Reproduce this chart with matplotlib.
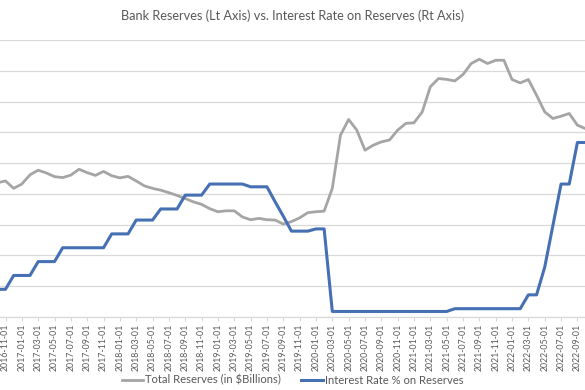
import matplotlib
matplotlib.use("Agg")
import matplotlib.pyplot as plt
import pandas as pd

# Monthly data, 2016-10 .. 2022-10
months = pd.date_range("2016-10-01", periods=73, freq="MS")
reserves = [2180, 2210, 2090, 2160, 2310, 2385, 2340, 2280, 2265, 2305,
            2400, 2345, 2300, 2365, 2295, 2260, 2285, 2210, 2130, 2090,
            2060, 2020, 1975, 1925, 1870, 1830, 1760, 1710, 1725, 1725,
            1625, 1580, 1602, 1580, 1575, 1510, 1550, 1610, 1695, 1710,
            1720, 2090, 2954, 3209, 3035, 2710, 2790, 2845, 2875, 3035,
            3145, 3155, 3330, 3740, 3874, 3860, 3835, 3940, 4118, 4188,
            4118, 4171, 4171, 3858, 3803, 3858, 3603, 3332, 3225, 3262,
            3306, 3116, 3060]
rate = [0.50, 0.50, 0.75, 0.75, 0.75, 1.00, 1.00, 1.00, 1.25, 1.25,
        1.25, 1.25, 1.25, 1.25, 1.50, 1.50, 1.50, 1.75, 1.75, 1.75,
        1.95, 1.95, 1.95, 2.20, 2.20, 2.20, 2.40, 2.40, 2.40, 2.40,
        2.40, 2.35, 2.35, 2.35, 2.08, 1.82, 1.55, 1.55, 1.55, 1.59,
        1.59, 0.10, 0.10, 0.10, 0.10, 0.10, 0.10, 0.10, 0.10, 0.10,
        0.10, 0.10, 0.10, 0.10, 0.10, 0.10, 0.15, 0.15, 0.15, 0.15,
        0.15, 0.15, 0.15, 0.15, 0.15, 0.40, 0.40, 0.90, 1.65, 2.40,
        2.40, 3.15, 3.15]
title = "Bank Reserves (Lt Axis) vs. Interest Rate on Reserves (Rt Axis)"
labels = [d.strftime("%Y-%m-%d") for d in months]

plt.rcParams["font.family"] = ["Lato", "DejaVu Sans"]
txt = "#595959"
grid = "#D9D9D9"

fig = plt.figure(figsize=(5.85, 3.9), dpi=100)
ax = fig.add_axes([0, 1 - 317 / 390, 1, 277 / 390])
ax2 = ax.twinx()

x = list(range(-1, len(months) - 1))
ax.plot(x, reserves, color="#A5A5A5", lw=2.0, solid_joinstyle="round",
        label="Total Reserves (in $Billions)", zorder=3)
ax2.plot(x, rate, color="#4670B4", lw=2.2, solid_joinstyle="round",
         label="Interest Rate % on Reserves", zorder=3)

ax.set_ylim(0, 4500)
ax.set_yticks(range(0, 4501, 500))
ax2.set_ylim(0, 5)
ax.grid(axis="y", color=grid, lw=0.9)
ax.set_axisbelow(True)
for a in (ax, ax2):
    for s in ("top", "left", "right"):
        a.spines[s].set_visible(False)
    a.spines["bottom"].set_color(grid)
    a.tick_params(axis="y", left=False, right=False, labelleft=False, labelright=False)

ax.set_xlim(-5.5 / 8.17, (585 - 5.5) / 8.17)
tick_pos = [xi for xi in x if xi >= 0 and (xi % 2 == 0)]
tick_lab = [labels[x.index(p)] for p in tick_pos]
ax.set_xticks(tick_pos)
ax.set_xticklabels(tick_lab, rotation=90, fontsize=6.3, color=txt)
ax.tick_params(axis="x", length=3, color=grid, pad=2)
ax2.tick_params(axis="x", bottom=False)

fig.text(0.5, 1 - 16 / 390, title, ha="center", va="center", fontsize=9.2, color=txt)

h1, l1 = ax.get_legend_handles_labels()
h2, l2 = ax2.get_legend_handles_labels()
fig.legend(h1 + h2, l1 + l2, loc="center", bbox_to_anchor=(0.5, 10 / 390), ncol=2,
           frameon=False, fontsize=8.1, labelcolor=txt, handlelength=1.9,
           handletextpad=0.2, columnspacing=1.8)

fig.savefig("out.png", dpi=100)
